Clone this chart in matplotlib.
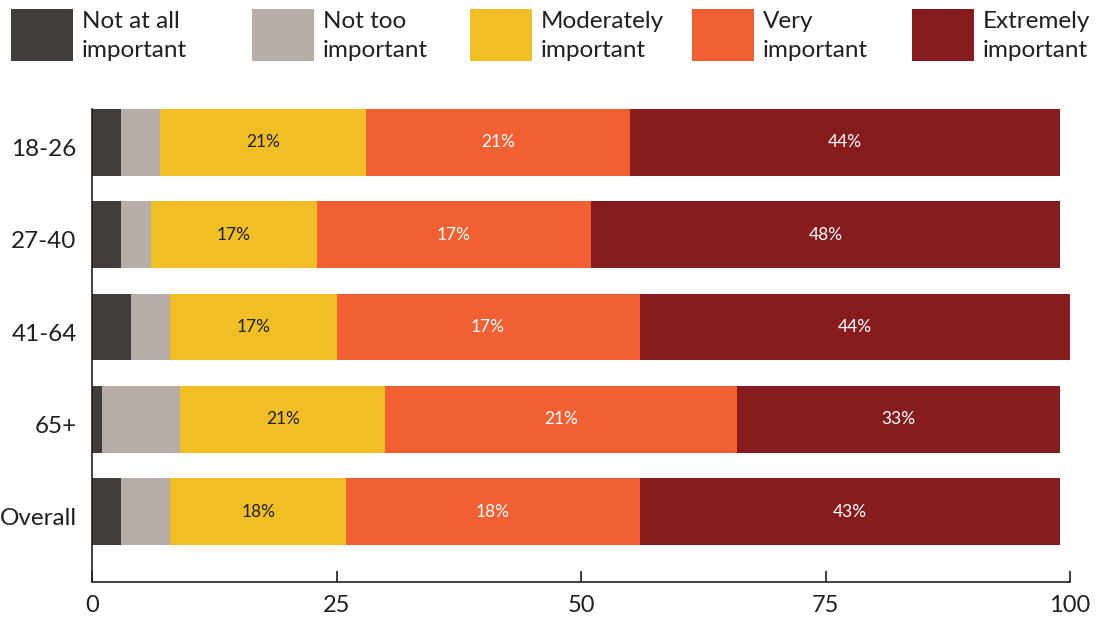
import numpy as np
import matplotlib.pyplot as plt
from matplotlib.patches import Rectangle
from matplotlib.transforms import ScaledTranslation

plt.rcParams['font.family'] = ['Lato', 'DejaVu Sans']

groups = ['18-26', '27-40', '41-64', '65+', 'Overall']
levels = ['Not at all\nimportant', 'Not too\nimportant', 'Moderately\nimportant',
          'Very\nimportant', 'Extremely\nimportant']
not_at_all = [3, 3, 4, 1, 3]
not_too = [4, 3, 4, 8, 5]
moderately = [21, 17, 17, 21, 18]
very = [27, 28, 31, 36, 30]
extremely = [44, 48, 44, 33, 43]
# labels as printed on the bars (the "very" ones repeat the moderate figures)
lbl_moderately = ['21%', '17%', '17%', '21%', '18%']
lbl_very = ['21%', '17%', '17%', '21%', '18%']
lbl_extremely = ['44%', '48%', '44%', '33%', '43%']
xticks = [0, 25, 50, 75, 100]

colors = ['#423d3a', '#b7aea8', '#f0be25', '#f06032', '#861c1e']
ink = '#231f20'

W, H = 1098, 622
fig = plt.figure(figsize=(W / 100, H / 100), dpi=100)
ax = fig.add_axes([92 / W, (H - 582) / H, 978 / W, (582 - 109) / H])

series = [not_at_all, not_too, moderately, very, extremely]
labels = [None, None, lbl_moderately, lbl_very, lbl_extremely]
txtcol = [None, None, ink, 'white', 'white']
y = np.arange(len(groups))
left = np.zeros(len(groups))
for vals, c, lb, tc in zip(series, colors, labels, txtcol):
    bars = ax.barh(y, vals, left=left, height=0.726, color=c, linewidth=0)
    if lb is not None:
        ax.bar_label(bars, labels=lb, label_type='center', color=tc, fontsize=12.5)
    left += np.array(vals)

ax.set_xlim(0, 100)
ax.set_ylim(4.764, -0.363)
ax.set_xticks(xticks)
ax.set_yticks(y)
ax.set_yticklabels(groups)
for s in ['top', 'right']:
    ax.spines[s].set_visible(False)
for s in ['left', 'bottom']:
    ax.spines[s].set_color(ink)
    ax.spines[s].set_linewidth(1.2)
ax.tick_params(axis='x', direction='in', length=8, width=1.2, color=ink,
               pad=9, labelsize=17, labelcolor=ink)
ax.tick_params(axis='y', length=0, pad=11, labelsize=17.5, labelcolor=ink)
# group labels sit a little below the bar centres
shift = ScaledTranslation(0, -5 / 100, fig.dpi_scale_trans)
for t in ax.get_yticklabels():
    t.set_transform(t.get_transform() + shift)

# legend drawn by hand across the top
leg_x = [11, 252, 470, 692, 912]
for lx, c, name in zip(leg_x, colors, levels):
    fig.patches.append(Rectangle((lx / W, 1 - 61 / H), 62 / W, 52 / H,
                                 transform=fig.transFigure, color=c, linewidth=0))
    fig.text((lx + 71) / W, 1 - 11 / H, name, va='top', ha='left',
             fontsize=17.5, color=ink, linespacing=1.45)

fig.savefig('out.png', dpi=100)
